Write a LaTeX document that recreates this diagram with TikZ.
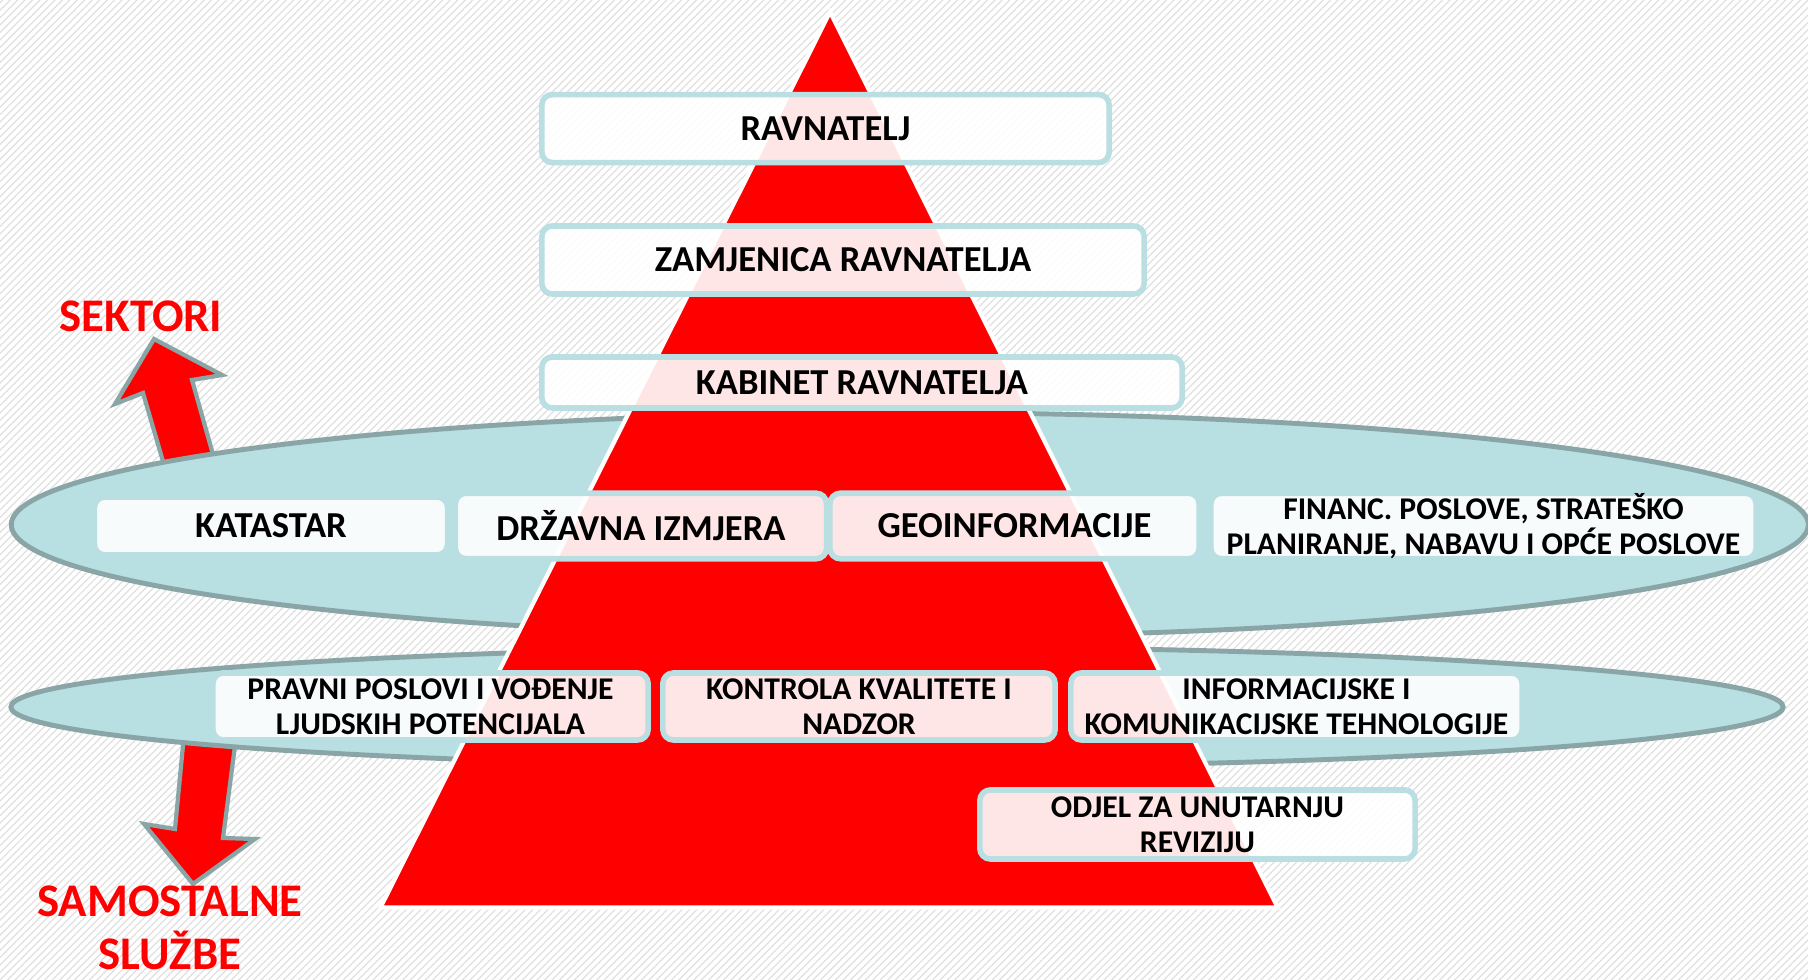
\documentclass[tikz,border=0pt]{standalone}
\usepackage{fontspec}
\setmainfont{Carlito}
\usetikzlibrary{patterns.meta}
\definecolor{ellfill}{RGB}{184,223,226}
\definecolor{elledge}{RGB}{138,165,166}
\definecolor{boxedge}{RGB}{185,223,226}
\begin{document}
\begin{tikzpicture}[x=0.01cm, y=-0.01cm,
    ring/.style={fill=ellfill, draw=elledge, line width=1.4pt},
    box/.style={draw=boxedge, line width=1.6pt, rounded corners=3pt, fill=white, fill opacity=0.9, text opacity=1, inner sep=0pt, font=\bfseries\fontsize{10.4}{12}\selectfont},
    twoline/.style={box, align=center, font=\bfseries\fontsize{9}{10}\selectfont},
    bigarrow/.style={fill=red, draw=elledge, line width=1.2pt, line join=miter},
    redlabel/.style={text=red, align=center, font=\bfseries\fontsize{13.3}{15.2}\selectfont}]
  \useasboundingbox (0,0) rectangle (1808,980);
  \fill[white] (0,0) rectangle (1808,980);
  \fill[pattern={Lines[angle=45,distance=1.5pt,line width=0.35pt]}, pattern color=black!12] (0,0) rectangle (1808,980);

  % arrows sit under the rings
  \draw[bigarrow] (167,475) -- (143,393) -- (115,404) -- (154,339) -- (222,375) -- (192,380) -- (216,465) -- cycle;
  \draw[bigarrow] (184,735) -- (175,829) -- (144,824) -- (193,884) -- (255,839) -- (223,838) -- (236,738) -- cycle;

  \draw[ring] (909.8,524.7) ellipse [x radius=8.98cm, y radius=1.12cm];
  \draw[ring] (897,707) ellipse [x radius=8.856cm, y radius=0.6cm];

  \draw[fill=red, draw=white, line width=1.2pt] (830,12) -- (1277.6,907.5) -- (380.5,907.5) -- cycle;

  \node[box, minimum width=5.67cm, minimum height=0.68cm] (ravnatelj) at (825.5,128.6) {RAVNATELJ};
  \node[box, minimum width=6.02cm, minimum height=0.68cm] (zamjenica) at (843,260) {ZAMJENICA RAVNATELJA};
  \node[box, minimum width=6.40cm, minimum height=0.51cm] (kabinet) at (862,382.5) {KABINET RAVNATELJA};

  \node[box, minimum width=3.53cm, minimum height=0.58cm] (katastar) at (271,526) {KATASTAR};
  \node[box, minimum width=3.71cm, minimum height=0.655cm] (izmjera) at (641,526) {DRŽAVNA IZMJERA};
  \node[box, minimum width=3.69cm, minimum height=0.655cm] (geoinf) at (1014.5,526) {GEOINFORMACIJE};
  \node[twoline, minimum width=5.45cm, minimum height=0.60cm] (financ) at (1483.5,526) {FINANC. POSLOVE, STRATEŠKO\\PLANIRANJE, NABAVU I OPĆE POSLOVE};

  \node[twoline, minimum width=4.35cm, minimum height=0.67cm] (pravni) at (430.5,706.5) {PRAVNI POSLOVI I VOĐENJE\\LJUDSKIH POTENCIJALA};
  \node[twoline, minimum width=3.92cm, minimum height=0.67cm] (kontrola) at (859,706.5) {KONTROLA KVALITETE I\\NADZOR};
  \node[twoline, minimum width=4.51cm, minimum height=0.67cm] (informac) at (1296.5,706.5) {INFORMACIJSKE I\\KOMUNIKACIJSKE TEHNOLOGIJE};
  \node[twoline, minimum width=4.35cm, minimum height=0.69cm] (revizija) at (1197.5,824.5) {ODJEL ZA UNUTARNJU\\REVIZIJU};

  \node[redlabel] (sektori) at (141,316) {SEKTORI};
  \node[redlabel] (sluzbe) at (170,928) {SAMOSTALNE\\SLUŽBE};
\end{tikzpicture}
\end{document}
